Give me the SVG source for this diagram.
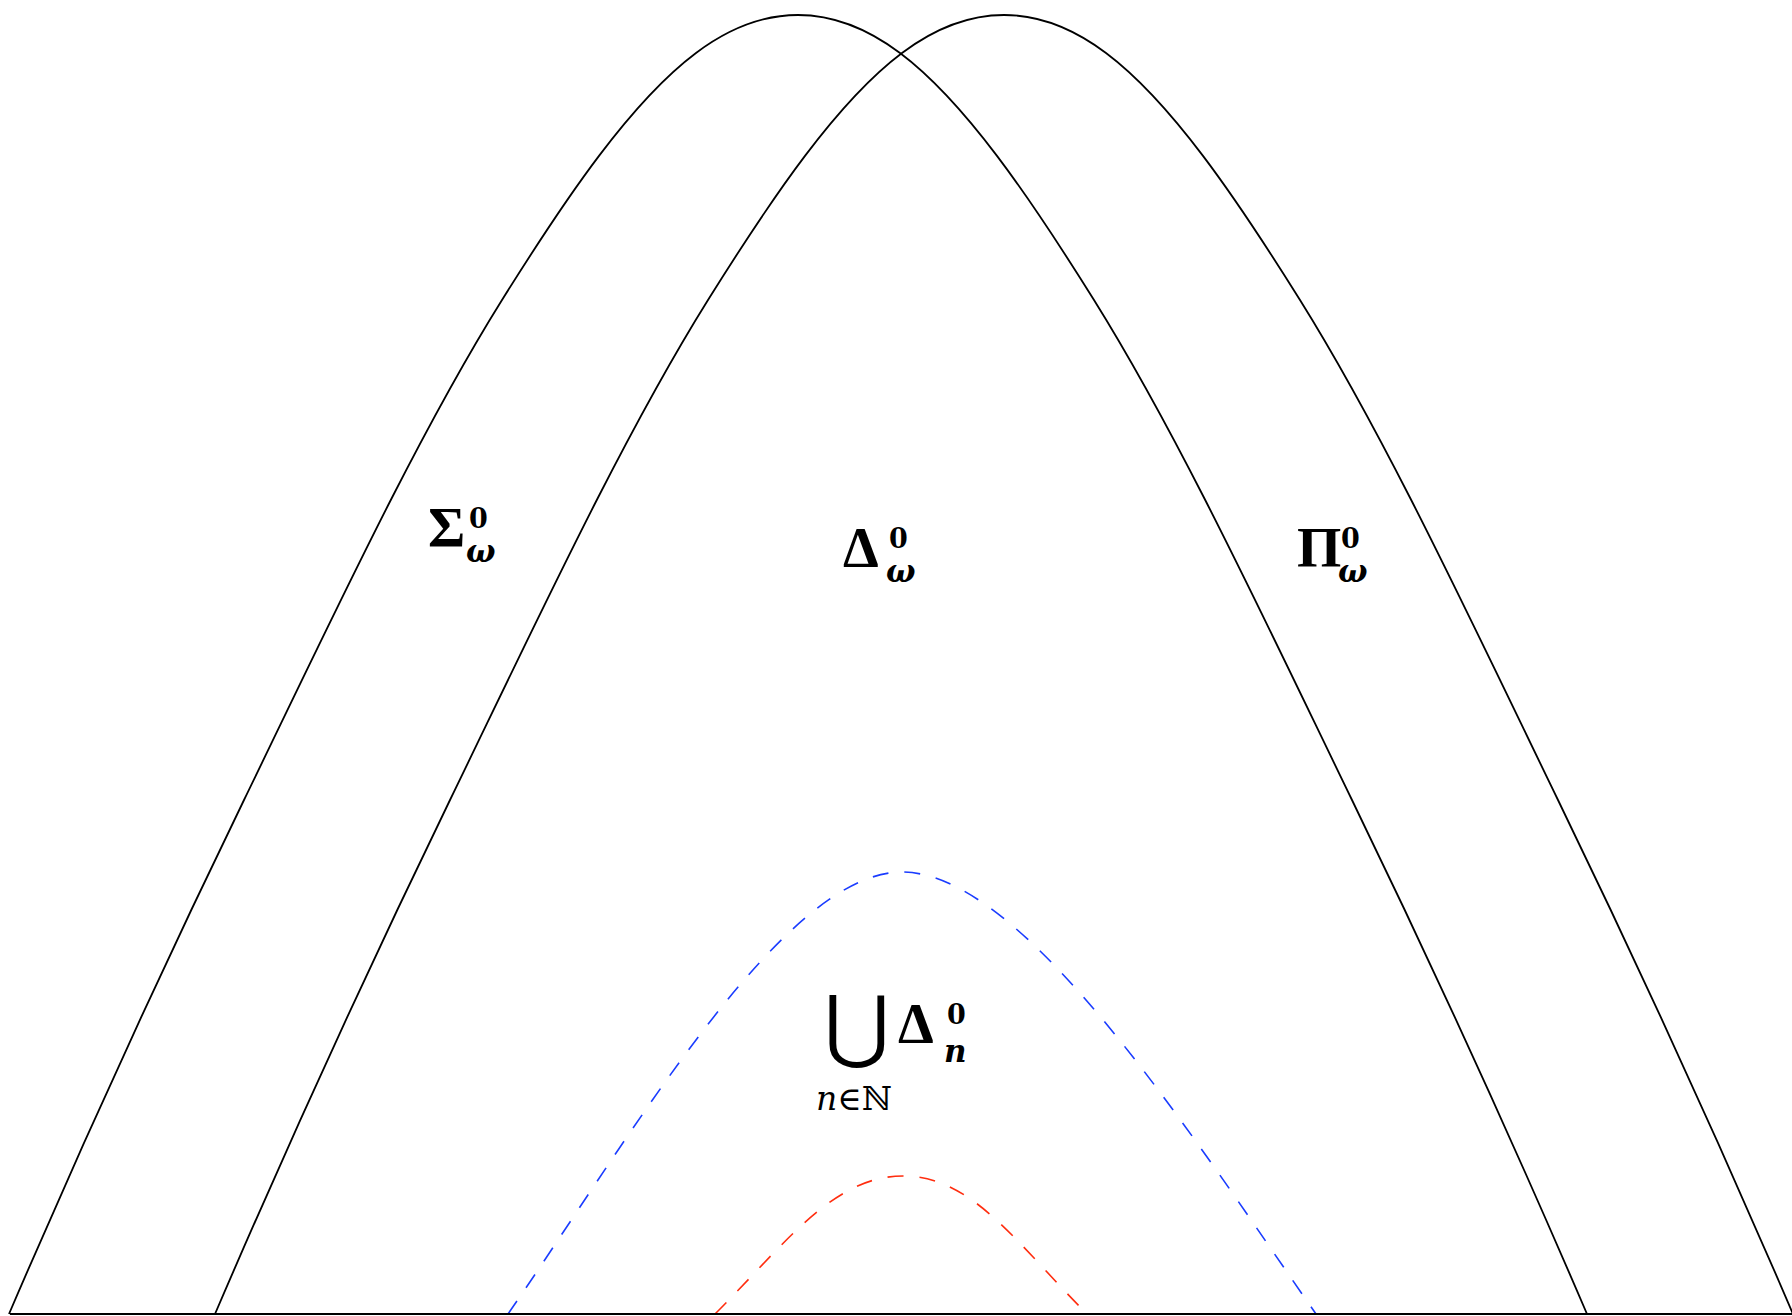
<svg xmlns="http://www.w3.org/2000/svg" width="1792" height="1316" viewBox="0 0 1792 1316">
<defs>
<style>
.curve{fill:none;stroke:#000;stroke-width:1.8}
.base{fill:none;stroke:#000;stroke-width:2}
.dash{fill:none;stroke-width:1.6;stroke-dasharray:16 16}
.big{font-family:"Liberation Serif","DejaVu Serif",serif;font-weight:bold;font-size:57px;fill:#000}
.sup{font-family:"DejaVu Serif",serif;font-weight:bold;font-size:27px;fill:#000}
.sub{font-family:"DejaVu Serif",serif;font-weight:bold;font-style:italic;font-size:31px;fill:#000}
.lim{font-family:"DejaVu Serif",serif;font-size:33px;fill:#000}
</style>
<path id="bell" d="M -789 0 C -711.3 -181 -632.7 -351.9 -554 -514 C -468 -691.2 -382 -876.4 -296 -1014 C -231.3 -1117.5 -166.7 -1212.5 -102 -1261 C -68 -1286.5 -34 -1299 0 -1299 C 34 -1299 68 -1286.5 102 -1261 C 166.7 -1212.5 231.3 -1117.5 296 -1014 C 382 -876.4 468 -691.2 554 -514 C 632.7 -351.9 711.3 -181 789 0"/>
</defs>
<rect width="1792" height="1316" fill="#fff"/>
<g id="connectors">
<use href="#bell" class="curve" transform="translate(798,1314)"/>
<use href="#bell" class="curve" transform="translate(1004,1314)"/>
<path class="dash" stroke="#1a3cff" d="M 508 1314 C 628 1141 782 872 902 872 C 1024 872 1192 1136 1316 1314"/>
<path class="dash" stroke="#ff2d0f" d="M 715 1314 C 785 1244 833 1176 903 1176 C 973 1176 1017 1244 1087 1314"/>
<line class="base" x1="10" y1="1314" x2="1792" y2="1314"/>
</g>
<g id="sigma">
<text class="big" x="428" y="547">Σ</text>
<text class="sup" x="469" y="528">0</text>
<text class="sub" x="466" y="562">ω</text>
</g>
<g id="delta">
<text class="big" x="843" y="567">Δ</text>
<text class="sup" x="889" y="548">0</text>
<text class="sub" x="886" y="582">ω</text>
</g>
<g id="pi">
<text class="big" x="1297" y="567">Π</text>
<text class="sup" x="1341" y="548">0</text>
<text class="sub" x="1338" y="582">ω</text>
</g>
<g id="union">
<text x="857" y="1053" text-anchor="middle" font-family="DejaVu Sans, sans-serif" font-weight="200" font-size="80" fill="#000">⋃</text>
<text class="big" x="898" y="1043">Δ</text>
<text class="sup" x="947" y="1024">0</text>
<text class="sub" x="944" y="1062">n</text>
<text class="lim" x="816" y="1110"><tspan font-style="italic">n</tspan>∈ℕ</text>
</g>
</svg>
